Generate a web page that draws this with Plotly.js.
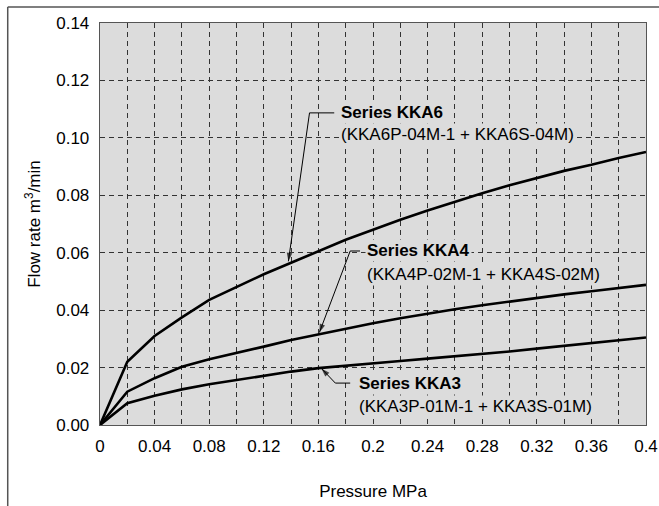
<!DOCTYPE html>
<html>
<head>
<meta charset="utf-8">
<script src="https://cdn.plot.ly/plotly-3.0.1.min.js"></script>
<style>html,body{margin:0;padding:0;background:#fff;}#chart{width:659px;height:506px;}</style>
</head>
<body>
<div id="chart"></div>
<script>
// Pressure (MPa)
const pressure = [0, 0.02, 0.04, 0.06, 0.08, 0.10, 0.12, 0.14, 0.16, 0.18, 0.20, 0.22, 0.24, 0.26, 0.28, 0.30, 0.32, 0.34, 0.36, 0.38, 0.40];
// Flow rate (m3/min)
const flowKKA6 = [0, 0.0220, 0.0310, 0.0375, 0.0436, 0.0480, 0.0525, 0.0565, 0.0605, 0.0645, 0.0680, 0.0715, 0.0747, 0.0778, 0.0807, 0.0835, 0.0860, 0.0885, 0.0906, 0.0930, 0.0951];
const flowKKA4 = [0, 0.0116, 0.0163, 0.0203, 0.0229, 0.0250, 0.0273, 0.0296, 0.0316, 0.0336, 0.0354, 0.0372, 0.0388, 0.0403, 0.0417, 0.0430, 0.0443, 0.0455, 0.0466, 0.0477, 0.0488];
const flowKKA3 = [0, 0.0076, 0.0102, 0.0124, 0.0142, 0.0157, 0.0171, 0.0186, 0.0198, 0.0207, 0.0215, 0.0223, 0.0231, 0.0239, 0.0247, 0.0256, 0.0266, 0.0276, 0.0286, 0.0296, 0.0305];
const seriesNames = ["Series KKA6", "Series KKA4", "Series KKA3"];
const seriesParts = ["(KKA6P-04M-1 + KKA6S-04M)", "(KKA4P-02M-1 + KKA4S-02M)", "(KKA3P-01M-1 + KKA3S-01M)"];
// tick labels
const xTickVals = [0, 0.04, 0.08, 0.12, 0.16, 0.2, 0.24, 0.28, 0.32, 0.36, 0.4];
const xTickText = ["0", "0.04", "0.08", "0.12", "0.16", "0.2", "0.24", "0.28", "0.32", "0.36", "0.4"];
const yTickVals = [0, 0.02, 0.04, 0.06, 0.08, 0.10, 0.12, 0.14];
const yTickText = ["0.00", "0.02", "0.04", "0.06", "0.08", "0.10", "0.12", "0.14"];

const FONT = "'Liberation Sans', Arial, Helvetica, sans-serif";
const lineStyle = {color: '#000', width: 2.6};
const traces = [flowKKA6, flowKKA4, flowKKA3].map((ys, i) => ({
  x: pressure, y: ys, type: 'scatter', mode: 'lines', name: seriesNames[i],
  line: lineStyle, hoverinfo: 'skip', cliponaxis: false
}));

// annotation anchor positions (data units)
const labelX = [0.175, 0.194, 0.188];
const labelY = [0.1087, 0.0606, 0.0146];
const partY = [0.1010, 0.0523, 0.0063];
const tipX = [0.138, 0.1607, 0.1622];
const tipY = [0.0570, 0.0322, 0.0197];
const startX = [0.1535, 0.1833, 0.1724];
const startY = [0.1087, 0.0606, 0.0146];
const leadEndX = [0.1716, 0.1905, 0.1833];

const annotations = [];
for (let i = 0; i < 3; i++) {
  // leader line with arrowhead
  traces.push({
    x: [leadEndX[i], startX[i], tipX[i]], y: [startY[i], startY[i], tipY[i]],
    type: 'scatter', mode: 'lines+markers', hoverinfo: 'skip', showlegend: false,
    line: {color: '#000', width: 1},
    marker: {symbol: 'arrow', angleref: 'previous', size: [0, 0, 9], color: '#000', line: {width: 0}}
  });
  annotations.push({x: labelX[i], y: labelY[i], xref: 'x', yref: 'y', text: '<b>' + seriesNames[i] + '</b>',
    showarrow: false, xanchor: 'left', yanchor: 'middle', bgcolor: '#dcdcdc', borderpad: 1,
    font: {family: FONT, size: 17, color: '#000'}});
  annotations.push({x: labelX[i], y: partY[i], xref: 'x', yref: 'y', text: seriesParts[i],
    showarrow: false, xanchor: 'left', yanchor: 'middle', bgcolor: '#dcdcdc', borderpad: 1,
    font: {family: FONT, size: 17, color: '#000'}});
}
// outer frame (paper)
const shapes = [
  {type: 'line', xref: 'paper', yref: 'paper', x0: -0.169, x1: 1.06, y0: 1.0398, y1: 1.0398, line: {color: '#555', width: 1.5}},
  {type: 'line', xref: 'paper', yref: 'paper', x0: -0.169, x1: -0.169, y0: 1.0398, y1: -0.3, line: {color: '#555', width: 1.5}}
];

const gridDash = '5px,4px';
const layout = {
  width: 659, height: 506,
  margin: {l: 100, r: 13, t: 23, b: 81},
  paper_bgcolor: '#fff', plot_bgcolor: '#dcdcdc',
  showlegend: false,
  font: {family: FONT, size: 17, color: '#000'},
  xaxis: {
    range: [0, 0.4], tickmode: 'array', tickvals: xTickVals, ticktext: xTickText,
    showgrid: true, gridcolor: '#333', gridwidth: 1, griddash: gridDash,
    minor: {dtick: 0.02, tick0: 0, showgrid: true, gridcolor: '#333', gridwidth: 1, griddash: gridDash},
    showline: true, mirror: true, linecolor: '#555', linewidth: 1.3, zeroline: false, ticks: '',
    ticklabelstandoff: 5, ticklabeloverflow: 'allow',
    tickfont: {family: FONT, size: 17}, fixedrange: true,
    title: {text: 'Pressure MPa', font: {family: FONT, size: 17}, standoff: 30}
  },
  yaxis: {
    range: [0, 0.14], tickmode: 'array', tickvals: yTickVals, ticktext: yTickText,
    showgrid: true, gridcolor: '#333', gridwidth: 1, griddash: gridDash,
    showline: true, mirror: true, linecolor: '#555', linewidth: 1.3, zeroline: false, ticks: '',
    ticklabelstandoff: 6,
    tickfont: {family: FONT, size: 17}, fixedrange: true,
    title: {text: 'Flow rate m<sup>3</sup>/min', font: {family: FONT, size: 17}, standoff: 11}
  },
  annotations: annotations,
  shapes: shapes
};
Plotly.newPlot('chart', traces, layout, {displayModeBar: false, staticPlot: true});
</script>
</body>
</html>
